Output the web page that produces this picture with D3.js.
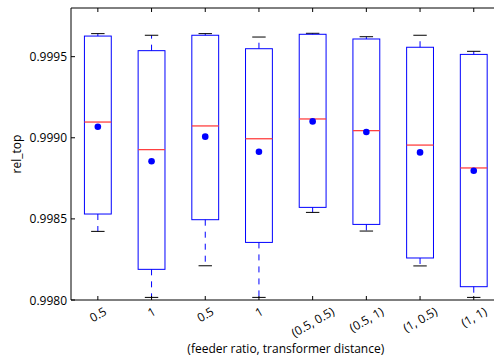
<!DOCTYPE html>
<html><head><meta charset="utf-8">
<script src="https://cdn.jsdelivr.net/npm/d3@7"></script>
<style>html,body{margin:0;background:#fff;overflow:hidden}svg{display:block;font-family:"Open Sans",sans-serif}</style>
</head><body><svg id="c" width="494" height="363"></svg>
<script>
const categories = ["0.5","1","0.5","1","(0.5, 0.5)","(0.5, 1)","(1, 0.5)","(1, 1)"];
const whiskerHigh = [0.999642,0.999632,0.999642,0.999621,0.999644,0.999623,0.999632,0.999533];
const q3 =          [0.999627,0.999537,0.999632,0.999549,0.999638,0.999609,0.999558,0.999514];
const medians =     [0.999097,0.998927,0.999073,0.998994,0.999116,0.999044,0.998955,0.998814];
const means =       [0.999068,0.998855,0.999007,0.998914,0.999101,0.999036,0.998910,0.998797];
const q1 =          [0.998530,0.998189,0.998495,0.998355,0.998571,0.998466,0.998259,0.998082];
const whiskerLow =  [0.998423,0.998016,0.998211,0.998016,0.998540,0.998425,0.998210,0.998016];
const yTicks = [0.998,0.9985,0.999,0.9995];
const yLabel = "rel_top", xLabel = "(feeder ratio, transformer distance)";

const svg = d3.select("#c");
const L=71, R=500.6, T=8, B=300;
const x = d3.scaleLinear().domain([0.5,8.5]).range([L,R]);
const y = d3.scaleLinear().domain([0.998,0.9998]).range([B,T]);
const boxW = x(1.25)-x(0.75);
const capW = x(1.125)-x(0.875);

const g = svg.append("g");
categories.forEach((c,i)=>{
  const cx = x(i+1);
  g.append("line").attr("x1",cx).attr("x2",cx).attr("y1",y(q3[i])).attr("y2",y(whiskerHigh[i]))
    .attr("stroke","blue").attr("stroke-dasharray","6,6");
  g.append("line").attr("x1",cx).attr("x2",cx).attr("y1",y(q1[i])).attr("y2",y(whiskerLow[i]))
    .attr("stroke","blue").attr("stroke-dasharray","6,6");
  [whiskerHigh[i],whiskerLow[i]].forEach(v=>{
    g.append("line").attr("x1",cx-capW/2).attr("x2",cx+capW/2).attr("y1",y(v)).attr("y2",y(v))
      .attr("stroke","#000");
  });
  g.append("rect").attr("x",cx-boxW/2).attr("width",boxW).attr("y",y(q3[i])).attr("height",y(q1[i])-y(q3[i]))
    .attr("fill","none").attr("stroke","blue");
  g.append("line").attr("x1",cx-boxW/2).attr("x2",cx+boxW/2).attr("y1",y(medians[i])).attr("y2",y(medians[i]))
    .attr("stroke","#ff4040").attr("stroke-width",1.3);
  g.append("circle").attr("cx",cx).attr("cy",y(means[i])).attr("r",3.3).attr("fill","blue");
});

const ax = svg.append("g").attr("font-size",12).attr("fill","#000");
ax.append("line").attr("x1",L).attr("x2",L).attr("y1",T).attr("y2",B).attr("stroke","#000");
ax.append("line").attr("x1",L).attr("x2",R).attr("y1",T).attr("y2",T).attr("stroke","#000");
ax.append("line").attr("x1",L).attr("x2",R).attr("y1",B).attr("y2",B).attr("stroke","#000");
yTicks.forEach(t=>{
  ax.append("line").attr("x1",L).attr("x2",L+4).attr("y1",y(t)).attr("y2",y(t)).attr("stroke","#000");
  ax.append("text").attr("x",L-4).attr("y",y(t)).attr("text-anchor","end").attr("dominant-baseline","central")
    .text(d3.format(".4f")(t));
});
categories.forEach((c,i)=>{
  const cx = x(i+1);
  ax.append("line").attr("x1",cx).attr("x2",cx).attr("y1",B).attr("y2",B-4).attr("stroke","#000");
  ax.append("line").attr("x1",cx).attr("x2",cx).attr("y1",T).attr("y2",T+4).attr("stroke","#000");
  const t = ax.append("text").attr("text-anchor","middle").attr("dominant-baseline","central").text(c);
  const w = t.node().getComputedTextLength(), h = 12;
  const bh = w*0.5 + h*0.866;
  t.attr("transform",`translate(${cx},${B+5+bh/2}) rotate(-30)`);
});
ax.append("text").attr("x",(L+R)/2).attr("y",353).attr("text-anchor","middle").text(xLabel);
ax.append("text").attr("transform",`translate(21,${(T+B)/2}) rotate(-90)`).attr("text-anchor","middle").text(yLabel);
</script></body></html>
